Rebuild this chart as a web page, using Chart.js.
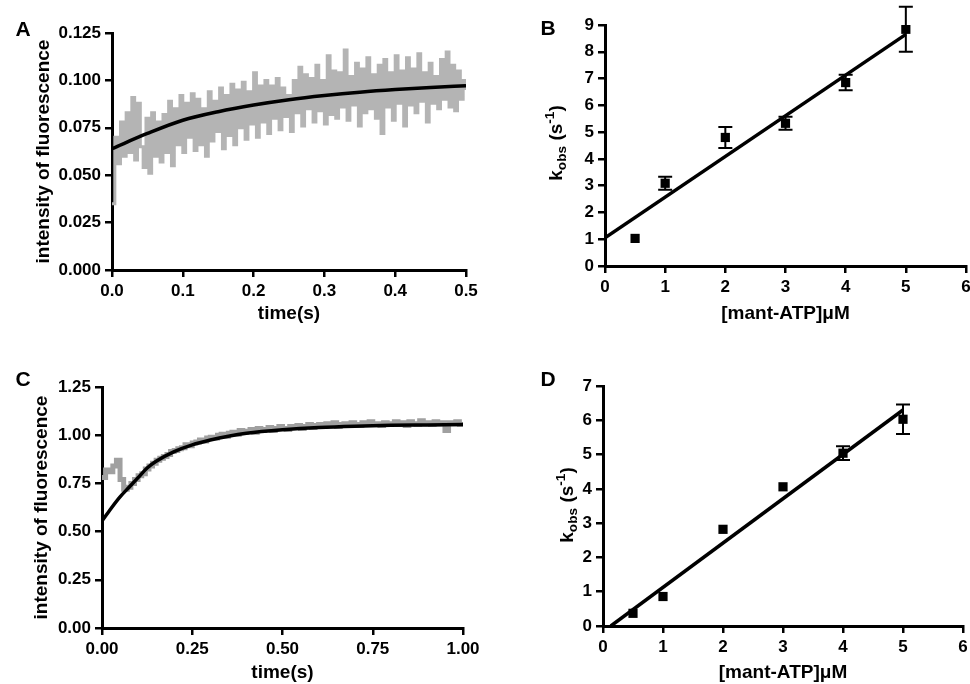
<!DOCTYPE html>
<html>
<head>
<meta charset="utf-8">
<script src="https://cdn.jsdelivr.net/npm/chart.js@4.4.1/dist/chart.umd.min.js"></script>
<style>
    body { margin: 0; background: #fff; overflow: hidden; width: 970px; height: 684px; position: relative; font-family: "Liberation Sans", Arial, sans-serif; }
    .panel { position: absolute; }
    .letra { position: absolute; font-weight: bold; font-size: 21px; line-height: 1; transform: translate(-50%, -50%); }
    .kobs { position: absolute; font-weight: bold; font-size: 19px; line-height: 1; white-space: nowrap; transform: translate(-50%, -50%) rotate(-90deg); }
    .kobs sub, .kobs sup { font-size: 0.72em; line-height: 0; }
</style>
</head>
<body>
<div class="panel" style="left:0;top:0;width:485px;height:330px"><canvas id="grafico-a"></canvas></div>
<div class="panel" style="left:490px;top:0;width:490px;height:330px"><canvas id="grafico-b"></canvas></div>
<div class="panel" style="left:0;top:330px;width:485px;height:354px"><canvas id="grafico-c"></canvas></div>
<div class="panel" style="left:490px;top:330px;width:490px;height:354px"><canvas id="grafico-d"></canvas></div>

<div class="letra" style="left:23px;top:28px">A</div>
<div class="letra" style="left:548px;top:27px">B</div>
<div class="letra" style="left:23px;top:378px">C</div>
<div class="letra" style="left:548px;top:378px">D</div>
<div class="kobs" style="left:555px;top:143px">k<sub>obs</sub> (s<sup>-1</sup>)</div>
<div class="kobs" style="left:566px;top:505px">k<sub>obs</sub> (s<sup>-1</sup>)</div>

<script>
// --- Datos panel A: traza de fluorescencia (paso de 4 ms) ---
const pasoA = 0.004;
const senalA = [
    0.035, 0.070, 0.056, 0.078, 0.060, 0.083, 0.062, 0.091, 0.058, 0.088,
    0.065, 0.054, 0.080, 0.051, 0.083, 0.060, 0.078, 0.057, 0.082, 0.062,
    0.089, 0.055, 0.085, 0.066, 0.092, 0.062, 0.088, 0.070, 0.093, 0.063,
    0.090, 0.066, 0.085, 0.060, 0.094, 0.068, 0.089, 0.073, 0.096, 0.064,
    0.092, 0.071, 0.098, 0.066, 0.095, 0.075, 0.099, 0.069, 0.094, 0.077,
    0.104, 0.070, 0.097, 0.078, 0.100, 0.072, 0.097, 0.080, 0.101, 0.074,
    0.096, 0.081, 0.092, 0.073, 0.100, 0.083, 0.107, 0.076, 0.103, 0.085,
    0.101, 0.078, 0.108, 0.084, 0.100, 0.077, 0.113, 0.082, 0.105, 0.080,
    0.104, 0.086, 0.116, 0.079, 0.102, 0.087, 0.109, 0.076, 0.106, 0.083,
    0.112, 0.085, 0.103, 0.080, 0.108, 0.072, 0.111, 0.086, 0.104, 0.079,
    0.113, 0.088, 0.105, 0.076, 0.112, 0.087, 0.106, 0.083, 0.114, 0.089,
    0.104, 0.078, 0.109, 0.088, 0.102, 0.085, 0.111, 0.090, 0.115, 0.086,
    0.108, 0.084, 0.105, 0.090, 0.100, 0.095
];
const ajusteTiempoA = [0, 0.05, 0.1, 0.15, 0.2, 0.25, 0.3, 0.35, 0.4, 0.45, 0.5];
const ajusteValorA = [0.064, 0.072, 0.079, 0.0835, 0.087, 0.0898, 0.092, 0.0938, 0.0952, 0.0963, 0.0972];

// --- Datos panel C: traza de fluorescencia (paso de 10 ms) ---
const pasoC = 0.01;
const senalC = [
    0.78, 0.82, 0.81, 0.84, 0.87, 0.77, 0.72, 0.73, 0.75, 0.77,
    0.79, 0.80, 0.825, 0.84, 0.855, 0.87, 0.88, 0.89, 0.90, 0.915,
    0.92, 0.93, 0.935, 0.95, 0.945, 0.96, 0.965, 0.975, 0.97, 0.985,
    0.99, 0.985, 1.00, 1.005, 0.995, 1.01, 1.015, 1.005, 1.025, 1.015,
    1.02, 1.03, 1.015, 1.035, 1.025, 1.03, 1.04, 1.025, 1.035, 1.045,
    1.035, 1.03, 1.045, 1.04, 1.05, 1.035, 1.045, 1.055, 1.04, 1.05,
    1.055, 1.045, 1.06, 1.05, 1.065, 1.045, 1.055, 1.06, 1.05, 1.065,
    1.055, 1.05, 1.065, 1.055, 1.07, 1.055, 1.06, 1.05, 1.065, 1.055,
    1.06, 1.07, 1.055, 1.065, 1.05, 1.07, 1.06, 1.055, 1.075, 1.06,
    1.065, 1.055, 1.07, 1.06, 1.065, 1.025, 1.065, 1.06, 1.07, 1.055, 1.065
];
const ajusteTiempoC = [0, 0.025, 0.05, 0.075, 0.1, 0.125, 0.15, 0.2, 0.25, 0.3, 0.35, 0.4, 0.5, 0.6, 0.7, 0.8, 0.9, 1.0];
const ajusteValorC = [0.555, 0.62, 0.68, 0.73, 0.78, 0.83, 0.865, 0.915, 0.95, 0.975, 0.995, 1.01, 1.028, 1.04, 1.047, 1.051, 1.053, 1.055];

// --- Datos panel B: kobs frente a [mant-ATP] ---
const concB = [0.5, 1, 2, 3, 4, 5];
const kobsB = [1.03, 3.09, 4.80, 5.33, 6.85, 8.84];
const errorB = [0, 0.24, 0.39, 0.24, 0.29, 0.84];
const rectaXB = [0, 5];
const rectaYB = [1.05, 8.65];

// --- Datos panel D ---
const concD = [0.5, 1, 2, 3, 4, 5];
const kobsD = [0.37, 0.86, 2.82, 4.06, 5.04, 6.03];
const errorD = [0, 0, 0, 0, 0.2, 0.43];
const rectaXD = [0.13, 5];
const rectaYD = [0, 6.3];

const fuente = '"Liberation Sans", Arial, sans-serif';

// Plugin para dibujar barras de error con las escalas del gráfico
const pluginErrores = {
    id: 'barrasError',
    afterDatasetsDraw: (chart, args, opts) => {
        if (!opts.xs) return;
        const ctx = chart.ctx;
        const sx = chart.scales.x;
        const sy = chart.scales.y;
        ctx.save();
        ctx.strokeStyle = '#000';
        ctx.lineWidth = 2;
        opts.xs.forEach((xv, i) => {
            const e = opts.errs[i];
            if (!e) return;
            const px = sx.getPixelForValue(xv);
            const y1 = sy.getPixelForValue(opts.ys[i] + e);
            const y2 = sy.getPixelForValue(opts.ys[i] - e);
            ctx.beginPath();
            ctx.moveTo(px, y1); ctx.lineTo(px, y2);
            ctx.moveTo(px - 7, y1); ctx.lineTo(px + 7, y1);
            ctx.moveTo(px - 7, y2); ctx.lineTo(px + 7, y2);
            ctx.stroke();
        });
        ctx.restore();
    }
};

function crearEje(min, max, paso, decimales, titulo, extra) {
    return {
        type: 'linear',
        min: min,
        max: max,
        ticks: {
            stepSize: paso,
            color: '#000',
            padding: 4,
            autoSkip: false,
            maxRotation: 0,
            font: { family: fuente, size: 17, weight: 'bold' },
            callback: v => Number(v).toFixed(decimales)
        },
        grid: { drawOnChartArea: false, drawTicks: true, tickLength: 7, color: '#000', lineWidth: 2.5 },
        border: { display: true, color: '#000', width: 3 },
        title: {
            display: titulo !== '',
            text: titulo,
            color: '#000',
            font: { family: fuente, size: 19, weight: 'bold' },
            padding: extra.padTitulo
        },
        afterFit: extra.ajuste
    };
}

function crearGrafico(id, datasets, ejeX, ejeY, padding, errores) {
    return new Chart(document.getElementById(id), {
        type: 'scatter',
        data: { datasets: datasets },
        options: {
            responsive: true,
            maintainAspectRatio: false,
            animation: false,
            layout: { padding: padding },
            scales: { x: ejeX, y: ejeY },
            plugins: {
                legend: { display: false },
                tooltip: { enabled: false },
                barrasError: errores || {}
            }
        },
        plugins: [pluginErrores]
    });
}

const aPuntos = (xs, ys) => xs.map((x, i) => ({ x: x, y: ys[i] }));

// Panel A
crearGrafico('grafico-a', [
    { data: aPuntos(ajusteTiempoA, ajusteValorA), showLine: true, borderColor: '#000', borderWidth: 3.5, pointRadius: 0, cubicInterpolationMode: 'monotone' },
    { data: senalA.map((v, i) => ({ x: i * pasoA, y: v })), showLine: true, stepped: true, borderColor: '#b4b4b4', borderWidth: 3, pointRadius: 0 }
],
    crearEje(0, 0.5, 0.1, 1, 'time(s)', { padTitulo: { top: 0, bottom: 1 }, ajuste: s => { s.height = 56; } }),
    crearEje(0, 0.125, 0.025, 3, 'intensity of fluorescence', { padTitulo: { top: 32, bottom: 0 }, ajuste: s => { s.width = 112; } }),
    { left: 0, top: 33, right: 19, bottom: 4 });

// Panel B
crearGrafico('grafico-b', [
    { data: aPuntos(rectaXB, rectaYB), showLine: true, borderColor: '#000', borderWidth: 3.5, pointRadius: 0 },
    { data: aPuntos(concB, kobsB), showLine: false, pointStyle: 'rect', pointRadius: 6.5, backgroundColor: '#000', borderColor: '#000', borderWidth: 0 }
],
    crearEje(0, 6, 1, 0, '[mant-ATP]\u03bcM', { padTitulo: { top: 0, bottom: 1 }, ajuste: s => { s.height = 60; } }),
    crearEje(0, 9, 1, 0, '', { padTitulo: 0, ajuste: s => { s.width = 115; } }),
    { left: 0, top: 25, right: 14, bottom: 4 },
    { xs: concB, ys: kobsB, errs: errorB });

// Panel C
crearGrafico('grafico-c', [
    { data: aPuntos(ajusteTiempoC, ajusteValorC), showLine: true, borderColor: '#000', borderWidth: 3.5, pointRadius: 0, cubicInterpolationMode: 'monotone' },
    { data: senalC.map((v, i) => ({ x: i * pasoC, y: v })), showLine: true, stepped: true, borderColor: '#a0a0a0', borderWidth: 5, pointRadius: 0 }
],
    crearEje(0, 1, 0.25, 2, 'time(s)', { padTitulo: { top: 0, bottom: 0 }, ajuste: s => { s.height = 56; } }),
    crearEje(0, 1.25, 0.25, 2, 'intensity of fluorescence', { padTitulo: { top: 30, bottom: 0 }, ajuste: s => { s.width = 102; } }),
    { left: 0, top: 57, right: 22, bottom: 0 });

// Panel D
crearGrafico('grafico-d', [
    { data: aPuntos(rectaXD, rectaYD), showLine: true, borderColor: '#000', borderWidth: 3.5, pointRadius: 0 },
    { data: aPuntos(concD, kobsD), showLine: false, pointStyle: 'rect', pointRadius: 6.5, backgroundColor: '#000', borderColor: '#000', borderWidth: 0 }
],
    crearEje(0, 6, 1, 0, '[mant-ATP]\u03bcM', { padTitulo: { top: 0, bottom: 0 }, ajuste: s => { s.height = 58; } }),
    crearEje(0, 7, 1, 0, '', { padTitulo: 0, ajuste: s => { s.width = 113; } }),
    { left: 0, top: 56, right: 17, bottom: 0 },
    { xs: concD, ys: kobsD, errs: errorD });
</script>
</body>
</html>
